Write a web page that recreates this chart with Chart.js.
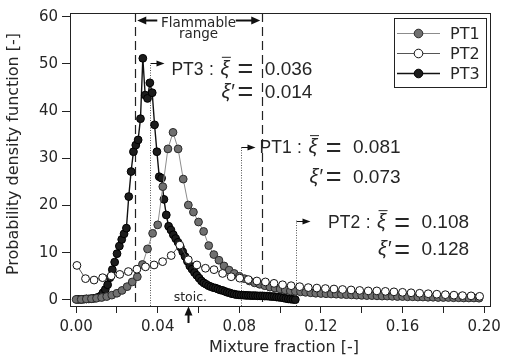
<!DOCTYPE html>
<html>
<head>
<meta charset="utf-8">
<script src="https://cdn.jsdelivr.net/npm/chart.js@4.4.1/dist/chart.umd.min.js"></script>
<style>
  html, body { margin: 0; padding: 0; background: #fff; }
  canvas { display: block; }
</style>
</head>
<body>
<canvas id="pdf" width="506" height="357"></canvas>
<script>
// mixture fraction ticks
const xTicks = [0, 0.02, 0.04, 0.06, 0.08, 0.10, 0.12, 0.14, 0.16, 0.18, 0.20]
const xTickLabels = ['0.00', '', '0.04', '', '0.08', '', '0.12', '', '0.16', '', '0.20']
const yTicks = [0, 10, 20, 30, 40, 50, 60]

// PT1
const pt1X = [0.0000, 0.0025, 0.0050, 0.0075, 0.0100, 0.0125, 0.0150, 0.0175, 0.0200, 0.0225,
  0.0250, 0.0275, 0.0300, 0.0325, 0.0350, 0.0375, 0.0400, 0.0425, 0.0450, 0.0475,
  0.0500, 0.0525, 0.0550, 0.0575, 0.0600, 0.0625, 0.0650, 0.0675, 0.0700, 0.0725,
  0.0750, 0.0775, 0.0800, 0.0825, 0.0850, 0.0875, 0.0900, 0.0925, 0.0950, 0.0975,
  0.1000, 0.1025, 0.1050, 0.1075, 0.1100, 0.1125, 0.1150, 0.1175, 0.1200, 0.1225,
  0.1250, 0.1275, 0.1300, 0.1325, 0.1350, 0.1375, 0.1400, 0.1425, 0.1450, 0.1475,
  0.1500, 0.1525, 0.1550, 0.1575, 0.1600, 0.1625, 0.1650, 0.1675, 0.1700, 0.1725,
  0.1750, 0.1775, 0.1800, 0.1825, 0.1850, 0.1875, 0.1900, 0.1925, 0.1950, 0.1975]
const pt1Y = [0.1, 0.1, 0.2, 0.25, 0.35, 0.5, 0.7, 1.0, 1.4, 2.0,
  2.8, 3.8, 4.9, 7.5, 10.8, 14.1, 15.9, 24.0, 32.0, 35.5,
  32.0, 25.6, 20.1, 18.6, 16.5, 14.5, 11.5, 9.6, 8.4, 7.2,
  6.3, 5.6, 5.0, 4.5, 4.0, 3.6, 3.3, 3.0, 2.7, 2.5,
  2.3, 2.1, 1.9, 1.8, 1.7, 1.6, 1.5, 1.4, 1.35, 1.3,
  1.25, 1.2, 1.15, 1.1, 1.05, 1.0, 0.95, 0.9, 0.9, 0.85,
  0.8, 0.8, 0.75, 0.7, 0.7, 0.65, 0.65, 0.6, 0.6, 0.55,
  0.55, 0.5, 0.5, 0.5, 0.45, 0.45, 0.4, 0.4, 0.4, 0.35]

// PT2
const pt2X = [0.0004, 0.0046, 0.0088, 0.0130, 0.0172, 0.0214, 0.0256, 0.0298, 0.0340, 0.0382,
  0.0424, 0.0466, 0.0508, 0.0550, 0.0592, 0.0634, 0.0676, 0.0718, 0.0760, 0.0802,
  0.0844, 0.0886, 0.0928, 0.0970, 0.1012, 0.1054, 0.1096, 0.1138, 0.1180, 0.1222,
  0.1264, 0.1306, 0.1348, 0.1390, 0.1432, 0.1474, 0.1516, 0.1558, 0.1600, 0.1642,
  0.1684, 0.1726, 0.1768, 0.1810, 0.1852, 0.1894, 0.1936, 0.1978]
const pt2Y = [7.3, 4.5, 4.2, 4.7, 5.1, 5.4, 6.0, 6.5, 7.0, 7.4,
  8.1, 9.4, 11.6, 8.5, 7.4, 6.7, 6.4, 5.6, 4.9, 4.6,
  4.3, 4.0, 3.8, 3.5, 3.2, 3.0, 2.8, 2.6, 2.5, 2.4,
  2.3, 2.2, 2.1, 2.0, 1.9, 1.9, 1.8, 1.7, 1.6, 1.5,
  1.4, 1.3, 1.2, 1.1, 1.0, 0.9, 0.85, 0.75]

// PT3
const pt3X = [0.00050, 0.00165, 0.00280, 0.00395, 0.00510, 0.00625, 0.00740, 0.00855, 0.00970, 0.01085,
  0.01200, 0.01315, 0.01430, 0.01545, 0.01660, 0.01775, 0.01890, 0.02005, 0.02120, 0.02235,
  0.02350, 0.02465, 0.02580, 0.02695, 0.02810, 0.02925, 0.03040, 0.03155, 0.03270, 0.03385,
  0.03500, 0.03615, 0.03730, 0.03845, 0.03960, 0.04075, 0.04190, 0.04305, 0.04420, 0.04535,
  0.04650, 0.04765, 0.04880, 0.04995, 0.05110, 0.05225, 0.05340, 0.05455, 0.05570, 0.05685,
  0.05800, 0.05915, 0.06030, 0.06145, 0.06260, 0.06375, 0.06490, 0.06605, 0.06720, 0.06835,
  0.06950, 0.07065, 0.07180, 0.07295, 0.07410, 0.07525, 0.07640, 0.07755, 0.07870, 0.07985,
  0.08100, 0.08215, 0.08330, 0.08445, 0.08560, 0.08675, 0.08790, 0.08905, 0.09020, 0.09135,
  0.09250, 0.09365, 0.09480, 0.09595, 0.09710, 0.09825, 0.09940, 0.10055, 0.10170, 0.10285,
  0.10400, 0.10515, 0.10630, 0.10745]
const pt3Y = [0.1, 0.1, 0.1, 0.15, 0.2, 0.2, 0.25, 0.3, 0.4, 0.55,
  0.8, 1.5, 2.2, 3.2, 4.7, 6.4, 8.0, 9.8, 11.4, 12.8,
  14.0, 15.2, 21.9, 27.2, 31.4, 32.8, 33.9, 38.4, 51.2, 43.4,
  42.7, 46.0, 43.9, 37.1, 31.4, 26.1, 25.8, 21.3, 18.0, 15.6,
  14.8, 13.8, 13.0, 12.2, 11.2, 10.2, 9.2, 8.2, 7.2, 6.5,
  5.8, 5.2, 4.6, 4.0, 3.6, 3.3, 3.0, 2.8, 2.6, 2.5,
  2.3, 2.1, 2.0, 1.8, 1.6, 1.5, 1.3, 1.2, 1.1, 1.05,
  1.0, 1.0, 0.95, 0.95, 0.9, 0.9, 0.9, 0.85, 0.85, 0.85,
  0.8, 0.8, 0.75, 0.7, 0.7, 0.6, 0.55, 0.5, 0.4, 0.3,
  0.2, 0.15, 0.1, 0.05]

// mean and fluctuation of each probe
const statNames = ['PT1', 'PT2', 'PT3']
const statMean = [0.081, 0.108, 0.036]
const statPrime = [0.073, 0.128, 0.014]

const flammable = [0.029, 0.091]
const stoich = 0.055

// where the stat labels sit (data units)
const statArrowY = [32.5, 16.8, 50.1]
const statTextX = [0.0899, 0.1235, 0.0467]
const statLine1 = [31.1, 15.2, 47.7]
const statLine2 = [24.8, 9.5, 42.8]

const FONT = '"DejaVu Sans", sans-serif'
const MATH = '"Liberation Sans", Arial, sans-serif'
const INK = '#262626'

const toXY = (xs, ys) => xs.map((x, i) => ({ x: x, y: ys[i] }))

const series = [
  { label: 'PT1', data: toXY(pt1X, pt1Y), order: 1,
    line: '#8c8c8c', lw: 1, fill: '#707070', edge: '#2a2a2a' },
  { label: 'PT2', data: toXY(pt2X, pt2Y), order: 0,
    line: '#555', lw: 1, fill: '#ffffff', edge: '#111' },
  { label: 'PT3', data: toXY(pt3X, pt3Y), order: 2,
    line: '#111', lw: 1.4, fill: '#1c1c1c', edge: '#000' }
]

function head(ctx, x, y, dx, dy, len, half) {
  ctx.beginPath()
  ctx.moveTo(x, y)
  ctx.lineTo(x - dx * len - dy * half, y - dy * len + dx * half)
  ctx.lineTo(x - dx * len + dy * half, y - dy * len - dx * half)
  ctx.closePath()
  ctx.fill()
}

const extras = {
  id: 'extras',
  beforeDatasetsDraw(chart) {
    const ctx = chart.ctx, a = chart.chartArea
    const xs = chart.scales.x, ys = chart.scales.y
    ctx.save()
    // flammable limits
    ctx.strokeStyle = '#222'
    ctx.lineWidth = 1.2
    ctx.setLineDash([9, 5])
    flammable.forEach(f => {
      const px = Math.round(xs.getPixelForValue(f)) + 0.5
      ctx.beginPath(); ctx.moveTo(px, a.top); ctx.lineTo(px, a.bottom); ctx.stroke()
    })
    // dotted markers at the means
    ctx.strokeStyle = '#555'
    ctx.lineWidth = 1
    ctx.setLineDash([1, 1.5])
    statMean.forEach((m, i) => {
      const px = Math.round(xs.getPixelForValue(m)) + 0.5
      const py = ys.getPixelForValue(statArrowY[i])
      ctx.beginPath(); ctx.moveTo(px, a.bottom); ctx.lineTo(px, py); ctx.stroke()
    })
    ctx.restore()
  },
  afterDatasetsDraw(chart) {
    const ctx = chart.ctx
    const xs = chart.scales.x, ys = chart.scales.y
    ctx.save()
    ctx.fillStyle = '#111'
    ctx.strokeStyle = '#111'

    // flammable range arrows
    const xl = xs.getPixelForValue(flammable[0])
    const xr = xs.getPixelForValue(flammable[1])
    const ya = 20.5
    ctx.lineWidth = 2
    ctx.beginPath(); ctx.moveTo(xl + 9, ya); ctx.lineTo(xl + 22, ya); ctx.stroke()
    head(ctx, xl + 2, ya, -1, 0, 9, 4)
    ctx.beginPath(); ctx.moveTo(xr - 26, ya); ctx.lineTo(xr - 9, ya); ctx.stroke()
    head(ctx, xr - 1.5, ya, 1, 0, 9, 4)
    ctx.fillStyle = INK
    ctx.font = '13.5px ' + FONT
    ctx.textAlign = 'center'
    ctx.textBaseline = 'alphabetic'
    ctx.fillText('Flammable', (xl + xr) / 2, 27)
    ctx.fillText('range', (xl + xr) / 2, 38)

    // stat labels with arrows
    statNames.forEach((name, i) => {
      const mx = Math.round(xs.getPixelForValue(statMean[i])) + 0.5
      const my = Math.round(ys.getPixelForValue(statArrowY[i])) + 0.5
      ctx.fillStyle = '#111'
      ctx.lineWidth = 1
      ctx.beginPath(); ctx.moveTo(mx, my); ctx.lineTo(mx + 8, my); ctx.stroke()
      head(ctx, mx + 14, my, 1, 0, 8, 3)

      const x0 = xs.getPixelForValue(statTextX[i])
      const b1 = ys.getPixelForValue(statLine1[i])
      const b2 = ys.getPixelForValue(statLine2[i])
      const r = x0 + 141
      ctx.fillStyle = INK
      ctx.font = '17.5px ' + MATH
      ctx.textAlign = 'left'
      ctx.fillText(name, x0, b1)
      ctx.textAlign = 'center'
      ctx.fillText(':', x0 + 40, b1)
      ctx.font = '27px ' + MATH
      ctx.fillText('=', x0 + 74, b1 + 3.5)
      ctx.fillText('=', x0 + 74, b2 + 3.5)
      ctx.font = '19px ' + MATH
      ctx.textAlign = 'right'
      ctx.fillText(statMean[i].toFixed(3), r, b1)
      ctx.fillText(statPrime[i].toFixed(3), r, b2)
      ctx.font = 'italic 20px ' + MATH
      ctx.textAlign = 'left'
      ctx.fillText('ξ', x0 + 49, b1)
      ctx.fillText('ξ′', x0 + 50, b2)
      ctx.strokeStyle = INK
      ctx.lineWidth = 1
      ctx.beginPath(); ctx.moveTo(x0 + 50.5, b1 - 17.5); ctx.lineTo(x0 + 59.5, b1 - 17.5); ctx.stroke()
      ctx.strokeStyle = '#111'
    })

    // stoichiometric marker
    ctx.fillStyle = INK
    ctx.font = '12.5px ' + FONT
    ctx.textAlign = 'center'
    ctx.fillText('stoic.', xs.getPixelForValue(stoich) + 2, 301)
    ctx.restore()
  },
  afterDraw(chart) {
    const ctx = chart.ctx, a = chart.chartArea
    const xs = chart.scales.x
    ctx.save()
    // frame
    ctx.strokeStyle = '#222'
    ctx.lineWidth = 1
    ctx.strokeRect(Math.round(a.left) + 0.5, Math.round(a.top) + 0.5,
      Math.round(a.right - a.left), Math.round(a.bottom - a.top))

    // stoic. arrow under the axis
    const sx = Math.round(xs.getPixelForValue(stoich)) + 0.5
    ctx.fillStyle = '#111'
    ctx.strokeStyle = '#111'
    ctx.lineWidth = 2
    ctx.beginPath(); ctx.moveTo(sx, 323); ctx.lineTo(sx, 313); ctx.stroke()
    head(ctx, sx, 306.5, 0, -1, 9, 4)

    // legend
    const lx = 394.5, ly = 18.5
    ctx.fillStyle = '#fff'
    ctx.fillRect(lx, ly, 92, 69)
    ctx.lineWidth = 1
    ctx.strokeStyle = '#222'
    ctx.strokeRect(lx, ly, 92, 69)
    ctx.font = '16px ' + FONT
    ctx.textAlign = 'left'
    ctx.textBaseline = 'middle'
    series.forEach((s, i) => {
      const ry = 33.5 + i * 20
      ctx.strokeStyle = s.line
      ctx.lineWidth = s.lw
      ctx.beginPath(); ctx.moveTo(397, ry); ctx.lineTo(440, ry); ctx.stroke()
      ctx.beginPath(); ctx.arc(418.5, ry, 4.3, 0, Math.PI * 2)
      ctx.fillStyle = s.fill; ctx.fill()
      ctx.strokeStyle = s.edge; ctx.lineWidth = 1; ctx.stroke()
      ctx.fillStyle = INK
      ctx.fillText(s.label, 450, ry + 1)
    })

    // axis titles
    ctx.fillStyle = INK
    ctx.font = '16px ' + FONT
    ctx.textAlign = 'center'
    ctx.textBaseline = 'alphabetic'
    ctx.fillText('Mixture fraction [-]', 284, 352)
    ctx.translate(18, 154)
    ctx.rotate(-Math.PI / 2)
    ctx.fillText('Probability density function [-]', 0, 0)
    ctx.restore()
  }
}

new Chart(document.getElementById('pdf'), {
  type: 'scatter',
  data: {
    datasets: series.map(s => ({
      label: s.label,
      data: s.data,
      order: s.order,
      showLine: true,
      borderColor: s.line,
      borderWidth: s.lw,
      pointRadius: 3.9,
      pointBackgroundColor: s.fill,
      pointBorderColor: s.edge,
      pointBorderWidth: 1
    }))
  },
  options: {
    responsive: false,
    devicePixelRatio: 1,
    animation: false,
    layout: { padding: { top: 13, right: 14, left: 0, bottom: 0 } },
    plugins: { legend: { display: false }, tooltip: { enabled: false } },
    scales: {
      x: {
        type: 'linear',
        min: -0.003,
        max: 0.2027,
        afterBuildTicks: s => { s.ticks = xTicks.map(v => ({ value: v })) },
        afterFit: s => { s.height = 51 },
        ticks: {
          autoSkip: false,
          maxRotation: 0,
          padding: 5,
          color: INK,
          font: { family: FONT, size: 15 },
          callback: (v, i) => xTickLabels[i]
        },
        grid: { drawOnChartArea: false, tickLength: 7, color: '#222' },
        border: { color: '#222' }
      },
      y: {
        min: -1.3,
        max: 60.8,
        afterBuildTicks: s => { s.ticks = yTicks.map(v => ({ value: v })) },
        afterFit: s => { s.width = 70 },
        ticks: {
          padding: 4,
          color: INK,
          font: { family: FONT, size: 15 },
          callback: v => String(v)
        },
        grid: { drawOnChartArea: false, tickLength: 8, color: '#222' },
        border: { color: '#222' }
      }
    }
  },
  plugins: [extras]
})
</script>
</body>
</html>
